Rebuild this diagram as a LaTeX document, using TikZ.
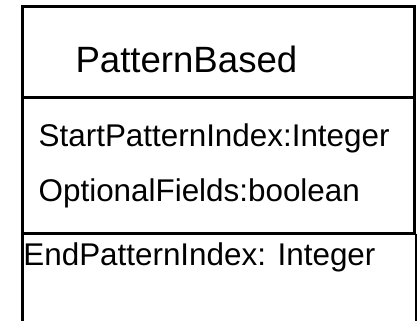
\documentclass[tikz,border=0pt]{standalone}
\usepackage{fontspec}
\setmainfont{Liberation Sans}
\begin{document}
\begin{tikzpicture}[x=1pt,y=-1pt,
  boxline/.style={line width=2.5pt,draw=black},
  titletext/.style={anchor=base west,inner sep=0pt,font=\fontsize{36.6}{40}\selectfont},
  attrtext/.style={anchor=base west,inner sep=0pt,font=\fontsize{31.4}{36}\selectfont}]
\useasboundingbox (0,0) rectangle (418,321);
% class box
\coordinate (tl) at (22.5,6.3);
\coordinate (tr) at (414.5,6.3);
\coordinate (s1l) at (22.5,97.7);
\coordinate (s1r) at (414.5,97.7);
\coordinate (s2l) at (22.5,233.5);
\coordinate (s2m) at (414.5,233.5);
\coordinate (s2r) at (416,233.5);
\coordinate (bl) at (22.5,321);
\coordinate (br) at (416,321);
\draw[boxline,line cap=rect] (s1l) -- (tl) -- (tr) -- (s1r);
\draw[boxline] (s1l) -- (s1r);
\draw[boxline] (s1l) -- (s2l) -- (bl);
\draw[boxline] (s1r) -- (s2m);
\draw[boxline] (s2l) -- (s2r);
\draw[boxline] (s2r) -- (br);
% texts
\node[titletext] (title) at (75.3,72.7) {PatternBased};
\node[attrtext] (a1) at (38.5,146.7) {StartPatternIndex:Integer};
\node[attrtext] (a2) at (38.5,201.7) {OptionalFields:boolean};
\node[attrtext] (a3) at (23.2,265) {EndPatternIndex: Integer};
\end{tikzpicture}
\end{document}
